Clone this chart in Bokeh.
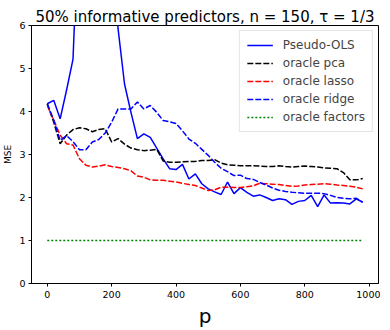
from bokeh.plotting import figure
from bokeh.models import Range1d, Legend, LegendItem, FixedTicker
from bokeh.embed import file_html
from bokeh.resources import INLINE

p_values = list(range(0, 1000, 20))

pseudo_ols = [4.18, 4.26, 3.83, 4.5, 5.22, 9.0, 20.0, 60.0, 40.0, 15.0,
              8.0, 5.92, 4.64, 3.98, 3.37, 3.48, 3.40, 3.15, 2.90, 2.67,
              2.65, 2.77, 2.43, 2.55, 2.32, 2.20, 2.13, 2.07, 2.36, 2.09,
              2.23, 2.12, 2.03, 2.06, 2.00, 1.93, 1.97, 1.95, 1.84, 1.91,
              1.93, 2.05, 1.79, 2.06, 1.87, 1.88, 1.87, 1.85, 1.97, 1.89]

oracle_pca = [4.18, 3.75, 3.25, 3.45, 3.58, 3.62, 3.60, 3.53, 3.58, 3.60,
              3.29, 3.37, 3.24, 3.15, 3.11, 3.09, 3.10, 3.12, 2.85, 2.82,
              2.82, 2.83, 2.84, 2.84, 2.86, 2.86, 2.88, 2.80, 2.76, 2.75,
              2.74, 2.74, 2.74, 2.73, 2.72, 2.72, 2.74, 2.72, 2.71, 2.72,
              2.73, 2.72, 2.71, 2.69, 2.68, 2.67, 2.58, 2.41, 2.41, 2.44]

oracle_lasso = [4.14, 3.80, 3.45, 3.25, 3.22, 2.90, 2.75, 2.71, 2.73, 2.76,
                2.72, 2.70, 2.67, 2.62, 2.50, 2.47, 2.41, 2.40, 2.40, 2.38,
                2.36, 2.33, 2.30, 2.28, 2.22, 2.16, 2.18, 2.24, 2.24, 2.23,
                2.23, 2.25, 2.27, 2.33, 2.32, 2.31, 2.30, 2.28, 2.26, 2.27,
                2.29, 2.30, 2.31, 2.32, 2.31, 2.29, 2.28, 2.26, 2.24, 2.20]

oracle_ridge = [4.18, 3.80, 3.33, 3.44, 3.30, 3.11, 3.11, 3.29, 3.35, 3.50,
                3.75, 4.06, 4.06, 4.06, 4.22, 4.06, 4.14, 3.98, 3.79, 3.76,
                3.72, 3.55, 3.36, 3.26, 3.12, 2.98, 2.82, 2.68, 2.60, 2.51,
                2.52, 2.44, 2.42, 2.35, 2.29, 2.22, 2.17, 2.14, 2.12, 2.11,
                2.10, 2.10, 2.10, 2.09, 2.05, 2.00, 1.98, 1.97, 1.98, 1.89]

oracle_factors = [1.0] * len(p_values)

x_ticks = [0, 200, 400, 600, 800, 1000]
y_ticks = [0, 1, 2, 3, 4, 5, 6]

FONT = "DejaVu Sans"

p = figure(frame_width=347, frame_height=258, output_backend="svg", toolbar_location=None,
           x_range=Range1d(-49, 1029), y_range=Range1d(0, 6),
           title="50% informative predictors, n = 150, τ = 1/3")
p.min_border_left = 25
p.min_border_right = 2
p.min_border_top = 25
p.min_border_bottom = 0

p.title.text_font = FONT
p.title.text_font_size = "15px"
p.title.text_font_style = "normal"
p.title.text_color = "black"
p.title.align = "center"
p.title.standoff = 0
p.title.offset = 0

p.xgrid.visible = False
p.ygrid.visible = False
p.outline_line_color = "black"
p.outline_line_width = 1
p.outline_line_alpha = 1

for ax in (p.xaxis[0], p.yaxis[0]):
    ax.axis_line_color = "black"
    ax.major_tick_line_color = "black"
    ax.major_tick_in = 0
    ax.major_tick_out = 3
    ax.minor_tick_line_color = None
    ax.major_label_text_font = FONT
    ax.major_label_text_font_size = "9.5px"
    ax.major_label_text_color = "black"
    ax.axis_label_text_font = FONT
    ax.axis_label_text_font_style = "normal"
    ax.axis_label_text_color = "black"

p.xaxis.ticker = FixedTicker(ticks=x_ticks)
p.yaxis.ticker = FixedTicker(ticks=y_ticks)
p.xaxis.axis_label = "p"
p.xaxis.axis_label_text_font_size = "20px"
p.xaxis.axis_label_standoff = 3
p.xaxis.major_label_standoff = 4
p.yaxis.axis_label = "MSE"
p.yaxis.axis_label_text_font_size = "9px"
p.yaxis.axis_label_standoff = 3
p.yaxis.major_label_standoff = 3

r1 = p.line(p_values, pseudo_ols, line_color="blue", line_width=1.5)
r2 = p.line(p_values, oracle_pca, line_color="black", line_width=1.5, line_dash="6 2")
r3 = p.line(p_values, oracle_lasso, line_color="red", line_width=1.5, line_dash="6 2")
r4 = p.line(p_values, oracle_ridge, line_color="blue", line_width=1.5, line_dash="6 2")
r5 = p.line(p_values, oracle_factors, line_color="#008000", line_width=1.5, line_dash="2 2")

legend = Legend(items=[
    LegendItem(label="Pseudo-OLS", renderers=[r1]),
    LegendItem(label="oracle pca", renderers=[r2]),
    LegendItem(label="oracle lasso", renderers=[r3]),
    LegendItem(label="oracle ridge", renderers=[r4]),
    LegendItem(label="oracle factors", renderers=[r5]),
], location="top_right")
legend.label_text_font = FONT
legend.label_text_font_size = "12px"
legend.glyph_width = 26
legend.glyph_height = 14
legend.label_standoff = 10
legend.spacing = 4
legend.padding = 7
legend.margin = 5
legend.border_line_color = "#cccccc"
legend.border_line_width = 1
legend.background_fill_alpha = 0.8
legend.label_height = 14
p.add_layout(legend)

open("out.html", "w").write(file_html(p, INLINE))
